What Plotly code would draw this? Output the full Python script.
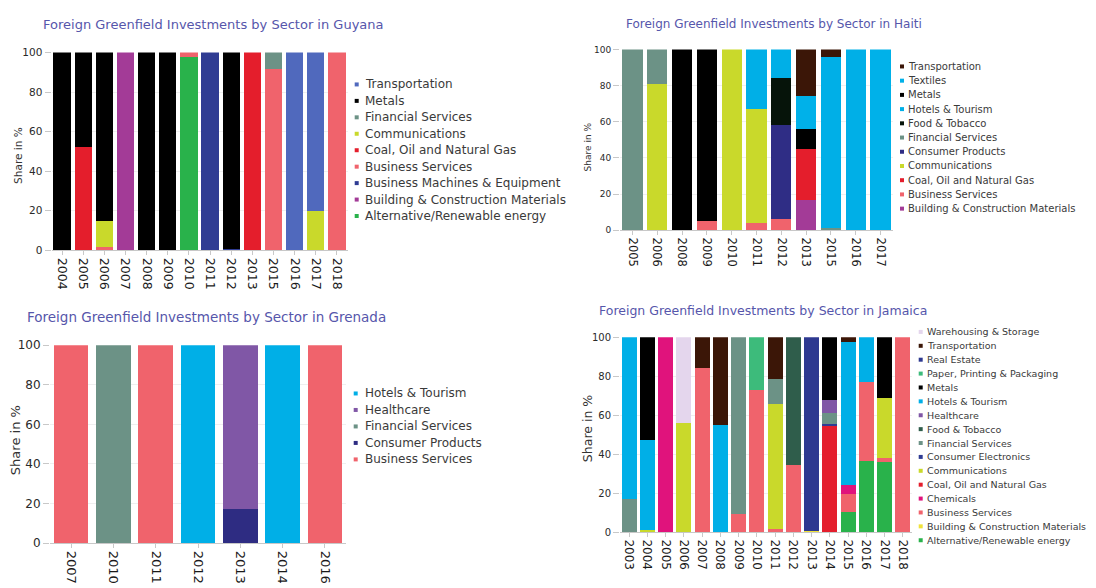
import plotly.graph_objects as go

W, H = 1096, 588
FONT = "DejaVu Sans"

# ---------------- Guyana ----------------
gy_years = ["2004", "2005", "2006", "2007", "2008", "2009", "2010", "2011", "2012", "2013", "2015", "2016", "2017", "2018"]
gy_alternative = [0, 0, 0, 0, 0, 0, 97.5, 0, 0, 0, 0, 0, 0, 0]
gy_building = [0, 0, 0, 100, 0, 0, 0, 0, 0, 0, 0, 0, 0, 0]
gy_business_machines = [0, 0, 0, 0, 0, 0, 0, 100, 0.8, 0, 0, 0, 0, 0]
gy_business_services = [0, 0, 1.5, 0, 0, 0, 2.5, 0, 0, 0, 91.5, 0, 0, 100]
gy_coal = [0, 52, 0, 0, 0, 0, 0, 0, 0, 100, 0, 0, 0, 0]
gy_communications = [0, 0, 13.5, 0, 0, 0, 0, 0, 0, 0, 0, 0, 20, 0]
gy_financial = [0, 0, 0, 0, 0, 0, 0, 0, 0, 0, 8.5, 0, 0, 0]
gy_metals = [100, 48, 85, 0, 100, 100, 0, 0, 99.2, 0, 0, 0, 0, 0]
gy_transportation = [0, 0, 0, 0, 0, 0, 0, 0, 0, 0, 0, 100, 80, 0]

# ---------------- Haiti ----------------
ht_years = ["2005", "2006", "2008", "2009", "2010", "2011", "2012", "2013", "2015", "2016", "2017"]
ht_building = [0, 0, 0, 0, 0, 0, 0, 17, 0, 0, 0]
ht_business = [0, 0, 0, 5, 0, 4, 6, 0, 0, 0, 0]
ht_coal = [0, 0, 0, 0, 0, 0, 0, 28, 0, 0, 0]
ht_communications = [0, 81, 0, 0, 100, 63, 0, 0, 0, 0, 0]
ht_consumer_products = [0, 0, 0, 0, 0, 0, 52, 0, 0, 0, 0]
ht_financial = [100, 19, 0, 0, 0, 0, 0, 0, 1.5, 0, 0]
ht_food = [0, 0, 0, 0, 0, 0, 26, 0, 0, 0, 0]
ht_hotels = [0, 0, 0, 0, 0, 33, 16, 0, 94.5, 100, 0]
ht_metals = [0, 0, 100, 95, 0, 0, 0, 11, 0, 0, 0]
ht_textiles = [0, 0, 0, 0, 0, 0, 0, 18, 0, 0, 100]
ht_transportation = [0, 0, 0, 0, 0, 0, 0, 26, 4, 0, 0]

# ---------------- Grenada ----------------
gd_years = ["2007", "2010", "2011", "2012", "2013", "2014", "2016"]
gd_business = [100, 0, 100, 0, 0, 0, 100]
gd_consumer = [0, 0, 0, 0, 17, 0, 0]
gd_financial = [0, 100, 0, 0, 0, 0, 0]
gd_healthcare = [0, 0, 0, 0, 83, 0, 0]
gd_hotels = [0, 0, 0, 100, 0, 100, 0]

# ---------------- Jamaica ----------------
jm_years = ["2003", "2004", "2005", "2006", "2007", "2008", "2009", "2010", "2011", "2012", "2013", "2014", "2015", "2016", "2017", "2018"]
jm_alternative = [0, 0, 0, 0, 0, 0, 0, 0, 0, 0, 0, 0, 10.5, 36.5, 36, 0]
jm_building = [0, 0, 0, 0, 0, 0, 0, 0, 0, 0, 0.7, 0, 0, 0, 0, 0]
jm_business = [0, 0, 0, 0, 84, 0, 9.5, 73, 1.5, 34.5, 0, 0, 9, 40.5, 2, 100]
jm_chemicals = [0, 0, 100, 0, 0, 0, 0, 0, 0, 0, 0, 0, 4.5, 0, 0, 0]
jm_coal = [0, 0, 0, 0, 0, 0, 0, 0, 0, 0, 0, 54.5, 0, 0, 0, 0]
jm_communications = [0, 0.8, 0, 56, 0, 0, 0, 0, 64, 0, 0, 0, 0, 0, 31, 0]
jm_consumer_electronics = [0, 0, 0, 0, 0, 0, 0, 0, 0, 0, 0, 1, 0, 0, 0, 0]
jm_financial = [17, 0, 0, 0, 0, 0, 90.5, 0, 13, 0, 0, 5.5, 0, 0, 0, 0]
jm_food = [0, 0, 0, 0, 0, 0, 0, 0, 0, 65.5, 0, 0, 0, 0, 0, 0]
jm_healthcare = [0, 0, 0, 0, 0, 0, 0, 0, 0, 0, 0, 7, 0, 0, 0, 0]
jm_hotels = [83, 46.2, 0, 0, 0, 55, 0, 0, 0, 0, 0, 0, 73.5, 23, 0, 0]
jm_metals = [0, 53, 0, 0, 0, 0, 0, 0, 0, 0, 0, 32, 0, 0, 31, 0]
jm_paper = [0, 0, 0, 0, 0, 0, 0, 27, 0, 0, 0, 0, 0, 0, 0, 0]
jm_real_estate = [0, 0, 0, 0, 0, 0, 0, 0, 0, 0, 99.3, 0, 0, 0, 0, 0]
jm_transportation = [0, 0, 0, 0, 16, 45, 0, 0, 21.5, 0, 0, 0, 2.5, 0, 0, 0]
jm_warehousing = [0, 0, 0, 44, 0, 0, 0, 0, 0, 0, 0, 0, 0, 0, 0, 0]

# series (name, values, colour) in stacking order (bottom -> top)
gy_series = [
    ("Alternative/Renewable energy", gy_alternative, "#29b24b"),
    ("Building & Construction Materials", gy_building, "#a33b97"),
    ("Business Machines & Equipment", gy_business_machines, "#2f3c93"),
    ("Business Services", gy_business_services, "#f0636c"),
    ("Coal, Oil and Natural Gas", gy_coal, "#e41e2c"),
    ("Communications", gy_communications, "#c9d92b"),
    ("Financial Services", gy_financial, "#6c9286"),
    ("Metals", gy_metals, "#000000"),
    ("Transportation", gy_transportation, "#5069bd"),
]
ht_series = [
    ("Building & Construction Materials", ht_building, "#a33b97"),
    ("Business Services", ht_business, "#f0636c"),
    ("Coal, Oil and Natural Gas", ht_coal, "#e41e2c"),
    ("Communications", ht_communications, "#c9d92b"),
    ("Consumer Products", ht_consumer_products, "#2f2d85"),
    ("Financial Services", ht_financial, "#6c9286"),
    ("Food & Tobacco", ht_food, "#06140a"),
    ("Hotels & Tourism", ht_hotels, "#00afe7"),
    ("Metals", ht_metals, "#000000"),
    ("Textiles", ht_textiles, "#00b1e9"),
    ("Transportation", ht_transportation, "#3b1607"),
]
gd_series = [
    ("Business Services", gd_business, "#f0636c"),
    ("Consumer Products", gd_consumer, "#2e2c82"),
    ("Financial Services", gd_financial, "#6c9286"),
    ("Healthcare", gd_healthcare, "#8057a6"),
    ("Hotels & Tourism", gd_hotels, "#00afe7"),
]
jm_series = [
    ("Alternative/Renewable energy", jm_alternative, "#29b24b"),
    ("Building & Construction Materials", jm_building, "#f0e23a"),
    ("Business Services", jm_business, "#f0636c"),
    ("Chemicals", jm_chemicals, "#e0137c"),
    ("Coal, Oil and Natural Gas", jm_coal, "#e41e2c"),
    ("Communications", jm_communications, "#c9d92b"),
    ("Consumer Electronics", jm_consumer_electronics, "#2f3c93"),
    ("Financial Services", jm_financial, "#6c9286"),
    ("Food & Tobacco", jm_food, "#2f5d4b"),
    ("Healthcare", jm_healthcare, "#8057a6"),
    ("Hotels & Tourism", jm_hotels, "#00afe7"),
    ("Metals", jm_metals, "#000000"),
    ("Paper, Printing & Packaging", jm_paper, "#3dbb7b"),
    ("Real Estate", jm_real_estate, "#2e3990"),
    ("Transportation", jm_transportation, "#3b1607"),
    ("Warehousing & Storage", jm_warehousing, "#e4d6ed"),
]

# page calibration: the figure appears shifted/scaled in the photographed page
OX, OY, EH = 8.0, 14.5, 574.5


def fx(x):
    return (x - OX) / W


def fy(y):
    return 1 - (y - OY) / EH


# panel layout (target pixel geometry)
panels = [
    dict(series=gy_series, years=gy_years, ax="", x0=51.5, x1=347.5, ytop=52, ybot=250,
         title="Foreign Greenfield Investments by Sector in Guyana", tx=41, ty=24, tfs=13,
         ytx=18.5, yty=155, ytfs=10.5, ytick=10.5, xtick=12.5,
         lx=356.7, ltx=363, ly0=84, ldy=16.46, lfs=12),
    dict(series=ht_series, years=ht_years, ax="2", x0=620, x1=893, ytop=49, ybot=230,
         title="Foreign Greenfield Investments by Sector in Haiti", tx=624, ty=24, tfs=12,
         ytx=588, yty=147, ytfs=9, ytick=9, xtick=11.5,
         lx=902, ltx=906, ly0=66, ldy=14.23, lfs=10),
    dict(series=gd_series, years=gd_years, ax="3", x0=50, x1=346, ytop=345, ybot=543,
         title="Foreign Greenfield Investments by Sector in Grenada", tx=25, ty=317, tfs=13.5,
         ytx=15, yty=440, ytfs=13, ytick=12, xtick=13,
         lx=355.7, ltx=363, ly0=393.3, ldy=16.5, lfs=12),
    dict(series=jm_series, years=jm_years, ax="4", x0=620, x1=912, ytop=337, ybot=532,
         title="Foreign Greenfield Investments by Sector in Jamaica", tx=597, ty=310, tfs=12.5,
         ytx=587, yty=429, ytfs=12.5, ytick=10, xtick=12,
         lx=920.7, ltx=925.3, ly0=331.7, ldy=13.9, lfs=9.5),
]

fig = go.Figure()
annotations = []
shapes = []
layout_axes = {}

for p in panels:
    ax = p["ax"]
    for name, vals, col in p["series"]:
        fig.add_trace(go.Bar(
            x=p["years"], y=vals, name=name, marker=dict(color=col, line=dict(width=0)),
            xaxis="x" + ax, yaxis="y" + ax, showlegend=False,
        ))
    layout_axes["xaxis" + ax] = dict(
        domain=[fx(p["x0"]), fx(p["x1"])], anchor="y" + ax, type="category",
        categoryorder="array", categoryarray=p["years"], tickangle=90,
        tickfont=dict(family=FONT, size=p["xtick"], color="#1a1a1a"),
        showline=True, linecolor="#c8c8c8", linewidth=1,
        ticks="outside", ticklen=4, tickcolor="#c8c8c8", showgrid=False,
    )
    layout_axes["yaxis" + ax] = dict(
        domain=[fy(p["ybot"]), fy(p["ytop"])], anchor="x" + ax,
        range=[0, 100], tickvals=[0, 20, 40, 60, 80, 100],
        tickfont=dict(family=FONT, size=p["ytick"], color="#2a2a2a"),
        ticks="outside", ticklen=6, tickcolor="#c8c8c8",
        showgrid=True, gridcolor="#efefef", zeroline=False, showline=False,
    )
    # panel title
    annotations.append(dict(
        text=p["title"], x=fx(p["tx"]), y=fy(p["ty"]), xref="paper", yref="paper",
        xanchor="left", yanchor="middle", showarrow=False,
        font=dict(family=FONT, size=p["tfs"], color="#5656ab"),
    ))
    # y-axis title
    annotations.append(dict(
        text="Share in %", x=fx(p["ytx"]), y=fy(p["yty"]), xref="paper", yref="paper",
        xanchor="center", yanchor="middle", showarrow=False, textangle=-90,
        font=dict(family=FONT, size=p["ytfs"], color="#333333"),
    ))
    # legend (reversed order)
    for i, (name, vals, col) in enumerate(reversed(p["series"])):
        yc = p["ly0"] + i * p["ldy"]
        annotations.append(dict(
            text=name, x=fx(p["ltx"]), y=fy(yc), xref="paper", yref="paper",
            xanchor="left", yanchor="middle", showarrow=False,
            font=dict(family=FONT, size=p["lfs"], color="#3a3a3a"),
        ))
        shapes.append(dict(
            type="rect", xref="paper", yref="paper",
            x0=fx(p["lx"] - 2), x1=fx(p["lx"] + 2),
            y0=fy(yc + 2), y1=fy(yc - 2),
            fillcolor=col, line=dict(width=0),
        ))

fig.update_layout(
    width=W, height=H, margin=dict(l=0, r=0, t=0, b=0),
    paper_bgcolor="white", plot_bgcolor="white",
    barmode="stack", bargap=0.18,
    showlegend=False,
    annotations=annotations, shapes=shapes,
    font=dict(family=FONT),
    **layout_axes,
)

fig.write_html("out.html")
